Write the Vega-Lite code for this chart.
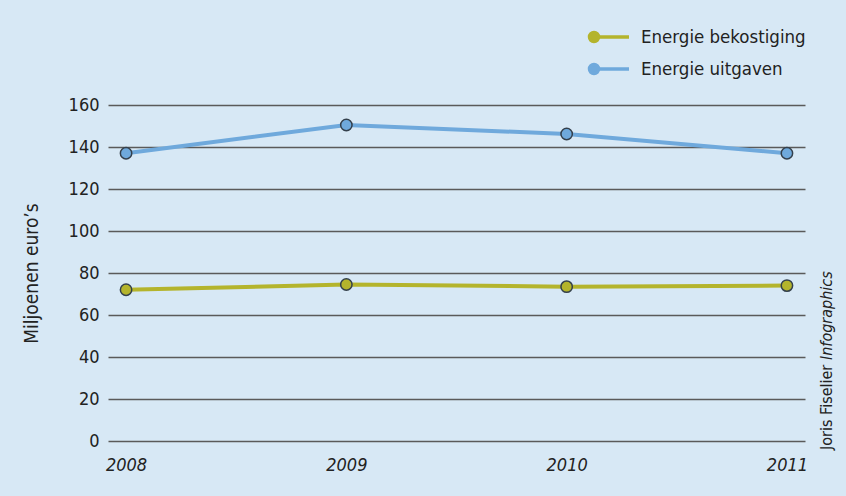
{
  "$schema": "https://vega.github.io/schema/vega-lite/v6.json",
  "width": 697,
  "height": 336,
  "autosize": {"type": "none"},
  "padding": {"left": 108, "top": 105, "right": 41, "bottom": 55},
  "background": "#d7e8f5",
  "config": {
    "view": {"stroke": null},
    "font": "Liberation Sans Narrow, DejaVu Sans Condensed, sans-serif"
  },
  "data": {
    "values": [
      {"year": "2008", "series": "Energie bekostiging", "value": 72},
      {"year": "2009", "series": "Energie bekostiging", "value": 74.5},
      {"year": "2010", "series": "Energie bekostiging", "value": 73.5},
      {"year": "2011", "series": "Energie bekostiging", "value": 74},
      {"year": "2008", "series": "Energie uitgaven", "value": 137},
      {"year": "2009", "series": "Energie uitgaven", "value": 150.5},
      {"year": "2010", "series": "Energie uitgaven", "value": 146.2},
      {"year": "2011", "series": "Energie uitgaven", "value": 137}
    ]
  },
  "encoding": {
    "x": {
      "field": "year", "type": "ordinal",
      "scale": {"type": "point", "padding": 0.082},
      "axis": {"title": null, "labelAngle": 0, "domain": false, "ticks": false, "grid": false,
        "labelFontStyle": "italic", "labelFontSize": 18, "labelColor": "#222", "labelPadding": 15}
    },
    "y": {
      "field": "value", "type": "quantitative",
      "scale": {"domain": [0, 160], "nice": false},
      "axis": {"title": "Miljoenen euro’s", "values": [0, 20, 40, 60, 80, 100, 120, 140, 160],
        "domain": false, "ticks": false, "gridColor": "#5a5a5a", "gridWidth": 1.3,
        "labelFontSize": 18, "labelColor": "#222", "labelPadding": 9,
        "titleFontSize": 19, "titleFontWeight": "normal", "titleColor": "#222", "titlePadding": 27}
    }
  },
  "layer": [
    {
      "mark": {"type": "line", "strokeWidth": 4},
      "encoding": {
        "color": {
          "field": "series", "type": "nominal",
          "scale": {"domain": ["Energie bekostiging", "Energie uitgaven"], "range": ["#b4b42c", "#6fa9dc"]},
          "legend": {
            "title": null, "orient": "none", "legendX": 499, "legendY": -80,
            "symbolType": "M-2.95,0A0.45,0.45 0 1,1 -2.05,0A0.45,0.45 0 1,1 -2.95,0Z M-2.05,0L1,0",
            "symbolSize": 400, "symbolStrokeWidth": 3.5, "symbolFillColor": null,
            "labelFontSize": 18.5, "labelColor": "#222", "labelOffset": 10, "rowPadding": 8,
            "labelLimit": 300
          }
        }
      }
    },
    {
      "mark": {"type": "point", "filled": true, "size": 130, "stroke": "#34404c", "strokeWidth": 1.5, "opacity": 1},
      "encoding": {
        "color": {"field": "series", "type": "nominal", "legend": null}
      }
    },
    {
      "data": {"values": [{"year": "2011", "value": 0, "label": "Joris Fiselier "}]},
      "mark": {"type": "text", "angle": 270, "align": "left", "baseline": "middle", "dx": -9, "dy": 40, "fontSize": 16, "color": "#222"},
      "encoding": {"text": {"field": "label"}}
    },
    {
      "data": {"values": [{"year": "2011", "value": 0, "label": "Infographics"}]},
      "mark": {"type": "text", "angle": 270, "align": "left", "baseline": "middle", "dx": 81, "dy": 40, "fontSize": 16, "fontStyle": "italic", "color": "#222"},
      "encoding": {"text": {"field": "label"}}
    }
  ]
}
